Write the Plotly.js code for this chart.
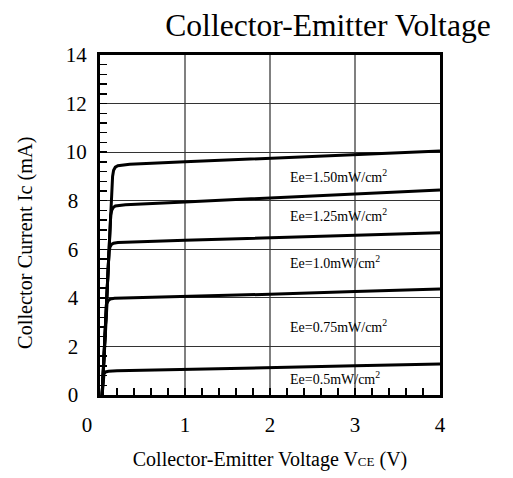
<!DOCTYPE html>
<html>
<head>
<meta charset="utf-8">
<script src="https://cdn.plot.ly/plotly-3.0.1.min.js"></script>
<style>html,body{margin:0;padding:0;background:#fff;}#chart{width:513px;height:478px;}</style>
</head>
<body>
<div id="chart"></div>
<script>
// Series: collector-emitter voltage (V) and collector current (mA) per irradiance
const seriesNames = ["Ee=1.50mW/cm<sup>2</sup>", "Ee=1.25mW/cm<sup>2</sup>", "Ee=1.0mW/cm<sup>2</sup>", "Ee=0.75mW/cm<sup>2</sup>", "Ee=0.5mW/cm<sup>2</sup>"];
const vce150 = [0.025, 0.09, 0.13, 0.148, 0.16, 0.18, 0.21, 0.26, 0.35, 1, 2, 3, 4];
const ic150  = [0, 4.8, 7.7, 9.0, 9.25, 9.38, 9.44, 9.47, 9.50, 9.60, 9.75, 9.90, 10.05];
const vce125 = [0.025, 0.09, 0.126, 0.138, 0.155, 0.18, 0.23, 0.3, 1, 2, 3, 4];
const ic125  = [0, 4.8, 7.4, 7.6, 7.72, 7.78, 7.81, 7.83, 7.95, 8.12, 8.28, 8.44];
const vce100 = [0.025, 0.08, 0.106, 0.118, 0.135, 0.16, 0.21, 1, 2, 3, 4];
const ic100  = [0, 4.0, 5.9, 6.1, 6.2, 6.25, 6.28, 6.37, 6.47, 6.58, 6.68];
const vce075 = [0.025, 0.072, 0.082, 0.095, 0.12, 0.17, 1, 2, 3, 4];
const ic075  = [0, 3.5, 3.75, 3.88, 3.95, 3.98, 4.05, 4.15, 4.26, 4.36];
const vce050 = [0.025, 0.037, 0.047, 0.065, 0.1, 0.2, 1, 2, 3, 4];
const ic050  = [0, 0.75, 0.88, 0.95, 0.98, 1.0, 1.05, 1.12, 1.2, 1.28];
// Label anchor positions (data coords)
const labelX = [2.215, 2.215, 2.215, 2.215, 2.215];
const labelY = [9.02, 7.41, 5.49, 2.84, 0.72];
// Tick labels
const xTickVals = [0, 1, 2, 3, 4];
const xTickText = ["0\u00A0\u00A0\u00A0\u00A0\u00A0", "1", "2", "3", "4"];
const yTickVals = [0, 2, 4, 6, 8, 10, 12, 14];
const yTickText = ["0", "2", "4", "6", "8", "10", "12", "14"].map(t => t.length === 1 ? t + "<span style='font-size:34px'>\u00A0</span>" : t);

const F = "Liberation Serif, Times New Roman, serif";
const xs = [vce150, vce125, vce100, vce075, vce050];
const ys = [ic150, ic125, ic100, ic075, ic050];
const traces = xs.map((x, i) => ({
  x: x, y: ys[i], type: "scatter", mode: "lines", name: seriesNames[i],
  line: {color: "#000", width: 3}, showlegend: false, hoverinfo: "skip"
}));

const annotations = seriesNames.map((t, i) => ({
  x: labelX[i], y: labelY[i], xref: "x", yref: "y", text: t, showarrow: false,
  xanchor: "left", yanchor: "middle", font: {family: F, size: 14, color: "#000"}
}));

const layout = {
  width: 513, height: 478,
  margin: {l: 100, r: 73, t: 55, b: 83, pad: 0},
  paper_bgcolor: "#fff", plot_bgcolor: "#fff",
  font: {family: F, color: "#000"},
  title: {text: "Collector-Emitter Voltage", font: {family: F, size: 31.6, color: "#000"},
          xref: "paper", x: (328 - 100) / 340, xanchor: "center",
          yref: "container", y: 1 - 25 / 478, yanchor: "middle"},
  xaxis: {
    range: [0, 4], tickvals: xTickVals, ticktext: xTickText,
    ticks: "inside", ticklen: 7, tickwidth: 1.5, tickcolor: "#000",
    minor: {dtick: 0.2, tick0: 0, ticks: "inside", ticklen: 7, tickwidth: 1.5, tickcolor: "#000", showgrid: false},
    showgrid: true, gridcolor: "#808080", gridwidth: 1.5,
    showline: true, linecolor: "#000", linewidth: 3, mirror: true,
    zeroline: false, tickfont: {family: F, size: 21, color: "#000"},
    ticklabelstandoff: 9,
    title: {text: "Collector-Emitter Voltage V<span style='font-size:13px'>CE</span> (V)", font: {family: F, size: 20, color: "#000"}, standoff: 16},
    automargin: false, fixedrange: true
  },
  yaxis: {
    range: [0, 14], tickvals: yTickVals, ticktext: yTickText,
    ticks: "inside", ticklen: 7, tickwidth: 1.5, tickcolor: "#000",
    minor: {dtick: 0.4, tick0: 0, ticks: "inside", ticklen: 7, tickwidth: 1.5, tickcolor: "#000", showgrid: false},
    showgrid: true, gridcolor: "#333", gridwidth: 1,
    showline: true, linecolor: "#000", linewidth: 3, mirror: true,
    zeroline: false, tickfont: {family: F, size: 21, color: "#000"},
    ticklabelstandoff: 6,
    title: {text: "Collector Current Ic (mA)\u00A0\u00A0\u00A0\u00A0\u00A0\u00A0\u00A0\u200B", font: {family: F, size: 20.3, color: "#000"}, standoff: 28},
    automargin: false, fixedrange: true
  },
  annotations: annotations
};

Plotly.newPlot("chart", traces, layout, {staticPlot: true, displayModeBar: false});
</script>
</body>
</html>
